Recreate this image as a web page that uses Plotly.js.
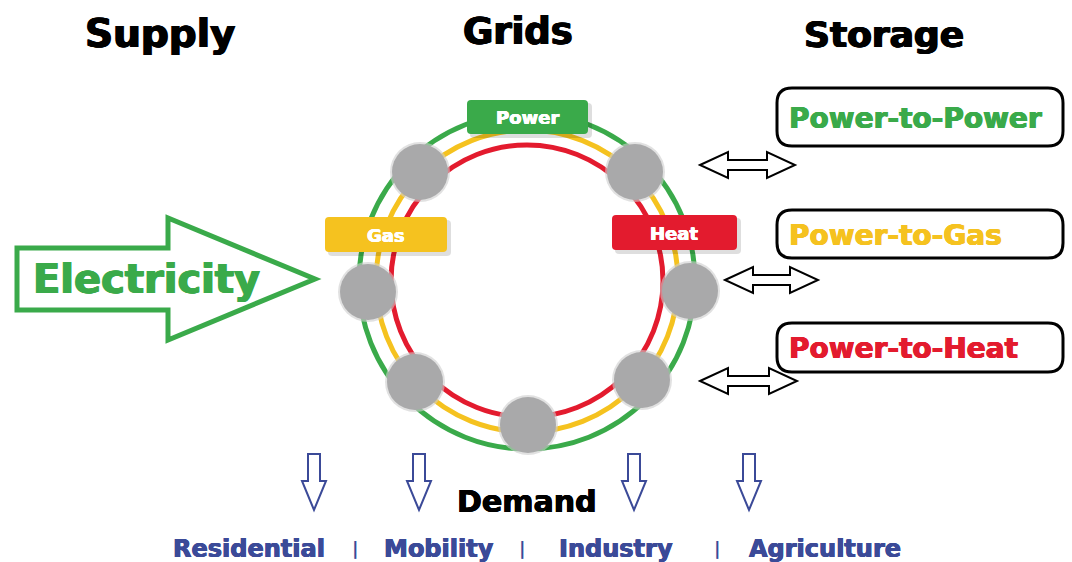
<!DOCTYPE html>
<html>
<head>
<meta charset="utf-8">
<script src="https://cdn.plot.ly/plotly-3.0.1.min.js"></script>
<style>html,body{margin:0;padding:0;background:#fff;}#chart{width:1072px;height:562px;}</style>
</head>
<body>
<div id="chart"></div>
<script>
// ---- Content (labels) ----
const headers = ['Supply', 'Grids', 'Storage'];
const supplyLabel = 'Electricity';
const gridCarriers = ['Power', 'Gas', 'Heat'];
const carrierColors = ['#3aaa4a', '#f5c21f', '#e31b2e'];
const storageOptions = ['Power-to-Power', 'Power-to-Gas', 'Power-to-Heat'];
const demandLabel = 'Demand';
const demandSectors = ['Residential', 'Mobility', 'Industry', 'Agriculture'];

// ---- Layout geometry (pixel space) ----
const W = 1072, H = 562;
const ringC = [527, 281];
const ringR = [168, 151, 136];           // green, yellow, red
const nodePts = [[420,172],[635,172],[368,292],[690,291],[415,382],[642,380],[528,425]];
const nodeR = 28;
const FONT = 'DejaVu Sans';

const shapes = [];
const ann = [];

function poly(pts, line, fill, width) {
  let d = 'M' + pts.map(p => p[0] + ',' + p[1]).join(' L') + ' Z';
  shapes.push({type:'path', path:d, xref:'x', yref:'y', line:{color:line, width:width}, fillcolor:fill, layer:'above'});
}
function rrect(x0, y0, x1, y1, r, line, lw, fill) {
  const d = `M${x0+r},${y0} L${x1-r},${y0} Q${x1},${y0} ${x1},${y0+r} L${x1},${y1-r} Q${x1},${y1} ${x1-r},${y1} L${x0+r},${y1} Q${x0},${y1} ${x0},${y1-r} L${x0},${y0+r} Q${x0},${y0} ${x0+r},${y0} Z`;
  shapes.push({type:'path', path:d, xref:'x', yref:'y', line:{color:line, width:lw}, fillcolor:fill, layer:'above'});
}
function circ(cx, cy, r, line, lw, fill) {
  shapes.push({type:'circle', xref:'x', yref:'y', x0:cx-r, x1:cx+r, y0:cy-r, y1:cy+r,
    line:{color:line, width:lw}, fillcolor:fill, layer:'above'});
}
function text(t, x, y, size, color, xanchor, heavy) {
  const f = {family:FONT, size:size, color:color, weight:'bold'};
  if (heavy) f.shadow = `${heavy}px 0 0 ${color}, -${heavy}px 0 0 ${color}, 0 ${heavy*0.5}px 0 ${color}`;
  ann.push({text:t, x:x, y:y, xref:'x', yref:'y', showarrow:false, xanchor:xanchor||'center', yanchor:'middle', font:f});
}

// Headers
const headerPos = [[160, 33, 39], [518, 31, 37], [884, 34, 36]];
headers.forEach((h, i) => text(h, headerPos[i][0], headerPos[i][1], headerPos[i][2], '#000', 'center', 0.8));

// Electricity arrow
poly([[17,248],[168,248],[168,218],[315,279],[168,340],[168,310],[17,310]], '#3aaa4a', '#ffffff', 5);
text(supplyLabel, 146, 279, 40, '#3aaa4a', 'center', 0.8);

// Rings
ringR.forEach((r, i) => circ(ringC[0], ringC[1], r, carrierColors[i], 5, 'rgba(0,0,0,0)'));

// Nodes (soft edge + body)
nodePts.forEach(p => {
  circ(p[0], p[1], nodeR + 2, 'rgba(0,0,0,0)', 0, 'rgba(205,205,205,0.6)');
  circ(p[0], p[1], nodeR, 'rgba(0,0,0,0)', 0, '#a9a9aa');
});

// Carrier label boxes
const boxes = [[467,100,588,134],[325,217,447,252],[612,215,737,250]];
const boxTextPos = [[527,117],[386,235],[674,233]];
gridCarriers.forEach((c, i) => {
  const b = boxes[i];
  rrect(b[0]+3, b[1]+3, b[2]+4, b[3]+4, 4, 'rgba(0,0,0,0)', 0, 'rgba(0,0,0,0.13)');
  rrect(b[0], b[1], b[2], b[3], 4, 'rgba(0,0,0,0)', 0, carrierColors[i]);
  text(c, boxTextPos[i][0], boxTextPos[i][1], 18, '#ffffff', 'center', 0.4);
});

// Storage boxes
const sBoxes = [[777,88,1063,146],[777,210,1063,258],[777,323,1063,372]];
storageOptions.forEach((s, i) => {
  const b = sBoxes[i];
  rrect(b[0], b[1], b[2], b[3], 15, '#000', 3, '#ffffff');
  text(s, 787, (b[1]+b[3])/2 + 1, 28, carrierColors[i], 'left', 0.6);
});

// Double arrows
function dblArrow(x0, x1, cy) {
  const hl = 28, hh = 13, sh = 5;
  poly([[x0,cy],[x0+hl,cy-hh],[x0+hl,cy-sh],[x1-hl,cy-sh],[x1-hl,cy-hh],[x1,cy],
        [x1-hl,cy+hh],[x1-hl,cy+sh],[x0+hl,cy+sh],[x0+hl,cy+hh]], '#000', '#ffffff', 2);
}
dblArrow(700, 795, 165);
dblArrow(725, 818, 280);
dblArrow(700, 797, 381);

// Demand arrows
function downArrow(cx) {
  const y0 = 454, ys = 481, y1 = 510, sw = 6, hw = 12;
  poly([[cx-sw,y0],[cx+sw,y0],[cx+sw,ys],[cx+hw,ys],[cx,y1],[cx-hw,ys],[cx-sw,ys]], '#3b4a98', '#ffffff', 2);
}
[314, 419, 634, 749].forEach(downArrow);
text(demandLabel, 527, 501, 30, '#000', 'center', 0.6);

// Sector labels
const sectorX = [249, 439, 616, 825];
const sepX = [355, 522, 717];
demandSectors.forEach((s, i) => text(s, sectorX[i], 549, 24, '#3b4a98', 'center', 0.5));
sepX.forEach(x => text('|', x, 548, 18, '#3b4a98'));

const layout = {
  width: W, height: H,
  margin: {l:0, r:0, t:0, b:0},
  paper_bgcolor: '#ffffff', plot_bgcolor: '#ffffff',
  xaxis: {range:[0, W], visible:false, fixedrange:true},
  yaxis: {range:[H, 0], visible:false, fixedrange:true},
  shapes: shapes, annotations: ann, showlegend:false
};
Plotly.newPlot('chart', [{x:[], y:[], type:'scatter'}], layout, {staticPlot:true, displayModeBar:false});
</script>
</body>
</html>
